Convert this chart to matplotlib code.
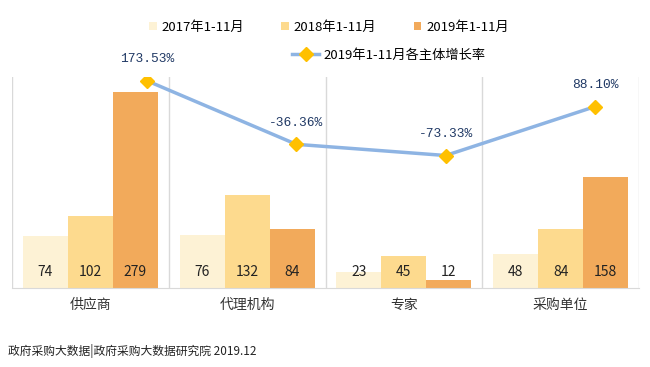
import matplotlib.pyplot as plt
from matplotlib.patches import Patch
from matplotlib.lines import Line2D
import numpy as np

plt.rcParams['font.family'] = ['Noto Sans CJK SC', 'DejaVu Sans']

# data
categories = ['供应商', '代理机构', '专家', '采购单位']
series_names = ['2017年1-11月', '2018年1-11月', '2019年1-11月']
v2017 = [74, 76, 23, 48]
v2018 = [102, 132, 45, 84]
v2019 = [279, 84, 12, 158]
growth = [173.53, -36.36, -73.33, 88.10]
growth_name = '2019年1-11月各主体增长率'
source = '政府采购大数据|政府采购大数据研究院 2019.12'

colors = ['#FDF2D5', '#FDDA8E', '#F2AA5B']
line_color = '#8EB4E3'
marker_color = '#FFC000'
label_color = '#1F3864'
grid_color = '#D9D9D9'

fig = plt.figure(figsize=(6.5, 3.67), dpi=100)
pos = [12 / 650, 1 - 288 / 367, 627 / 650, 211 / 367]
ax = fig.add_axes(pos)

x = np.arange(len(categories))
w = 0.287
for i, vals in enumerate([v2017, v2018, v2019]):
    xs = x + (i - 1) * w
    ax.bar(xs, vals, width=w, color=colors[i], zorder=2)
    for xi, v in zip(xs, vals):
        ax.annotate(str(v), (xi, 0), xytext=(0, 11.5), textcoords='offset points',
                    ha='center', va='center', fontsize=10, color='#222222')

ax.set_xlim(-0.5, len(categories) - 0.5)
ax.set_ylim(0, 300)
ax.set_yticks([])
ax.set_xticks(x)
ax.set_xticklabels(categories, fontsize=10, color='#333333')
ax.tick_params(axis='x', length=0, pad=7)
for b in np.arange(-0.5, len(categories), 1.0):
    ax.axvline(b, color=grid_color, lw=1, zorder=1)
for s in ['top', 'right', 'left']:
    ax.spines[s].set_visible(False)
ax.spines['bottom'].set_color(grid_color)

# growth line on its own axes
ax2 = fig.add_axes(pos)
ax2.patch.set_alpha(0)
ax2.axis('off')
xl = np.arange(len(growth))
ax2.plot(xl, growth, color=line_color, lw=2.5, marker='D', markersize=7,
         markerfacecolor=marker_color, markeredgecolor=marker_color, zorder=3)
ax2.set_xlim(-0.904, 3.295)
ax2.set_ylim(-511, 186)
for xi, g in zip(xl, growth):
    ax2.annotate(f'{g:.2f}%', (xi, g), xytext=(0, 15.5), textcoords='offset points',
                 ha='center', va='center', fontsize=9.3, color=label_color,
                 family='Liberation Mono')

# legends
bar_handles = [Patch(facecolor=c, edgecolor='none') for c in colors]
fig.legend(bar_handles, series_names, loc='center', bbox_to_anchor=(329 / 650, 1 - 27 / 367),
           ncol=3, frameon=False, fontsize=9.5, handlelength=0.6, handleheight=0.6,
           handletextpad=0.35, columnspacing=2.8)
line_handle = Line2D([], [], color=line_color, lw=2.5, marker='D', markersize=7,
                     markerfacecolor=marker_color, markeredgecolor=marker_color)
fig.legend([line_handle], [growth_name], loc='center', bbox_to_anchor=(389 / 650, 1 - 55 / 367),
           frameon=False, fontsize=9.5, handlelength=2.0, handletextpad=0.35)

fig.text(8 / 650, 1 - 351 / 367, source, fontsize=8.5, color='#222222', va='center')

plt.savefig('out.png', dpi=100)
